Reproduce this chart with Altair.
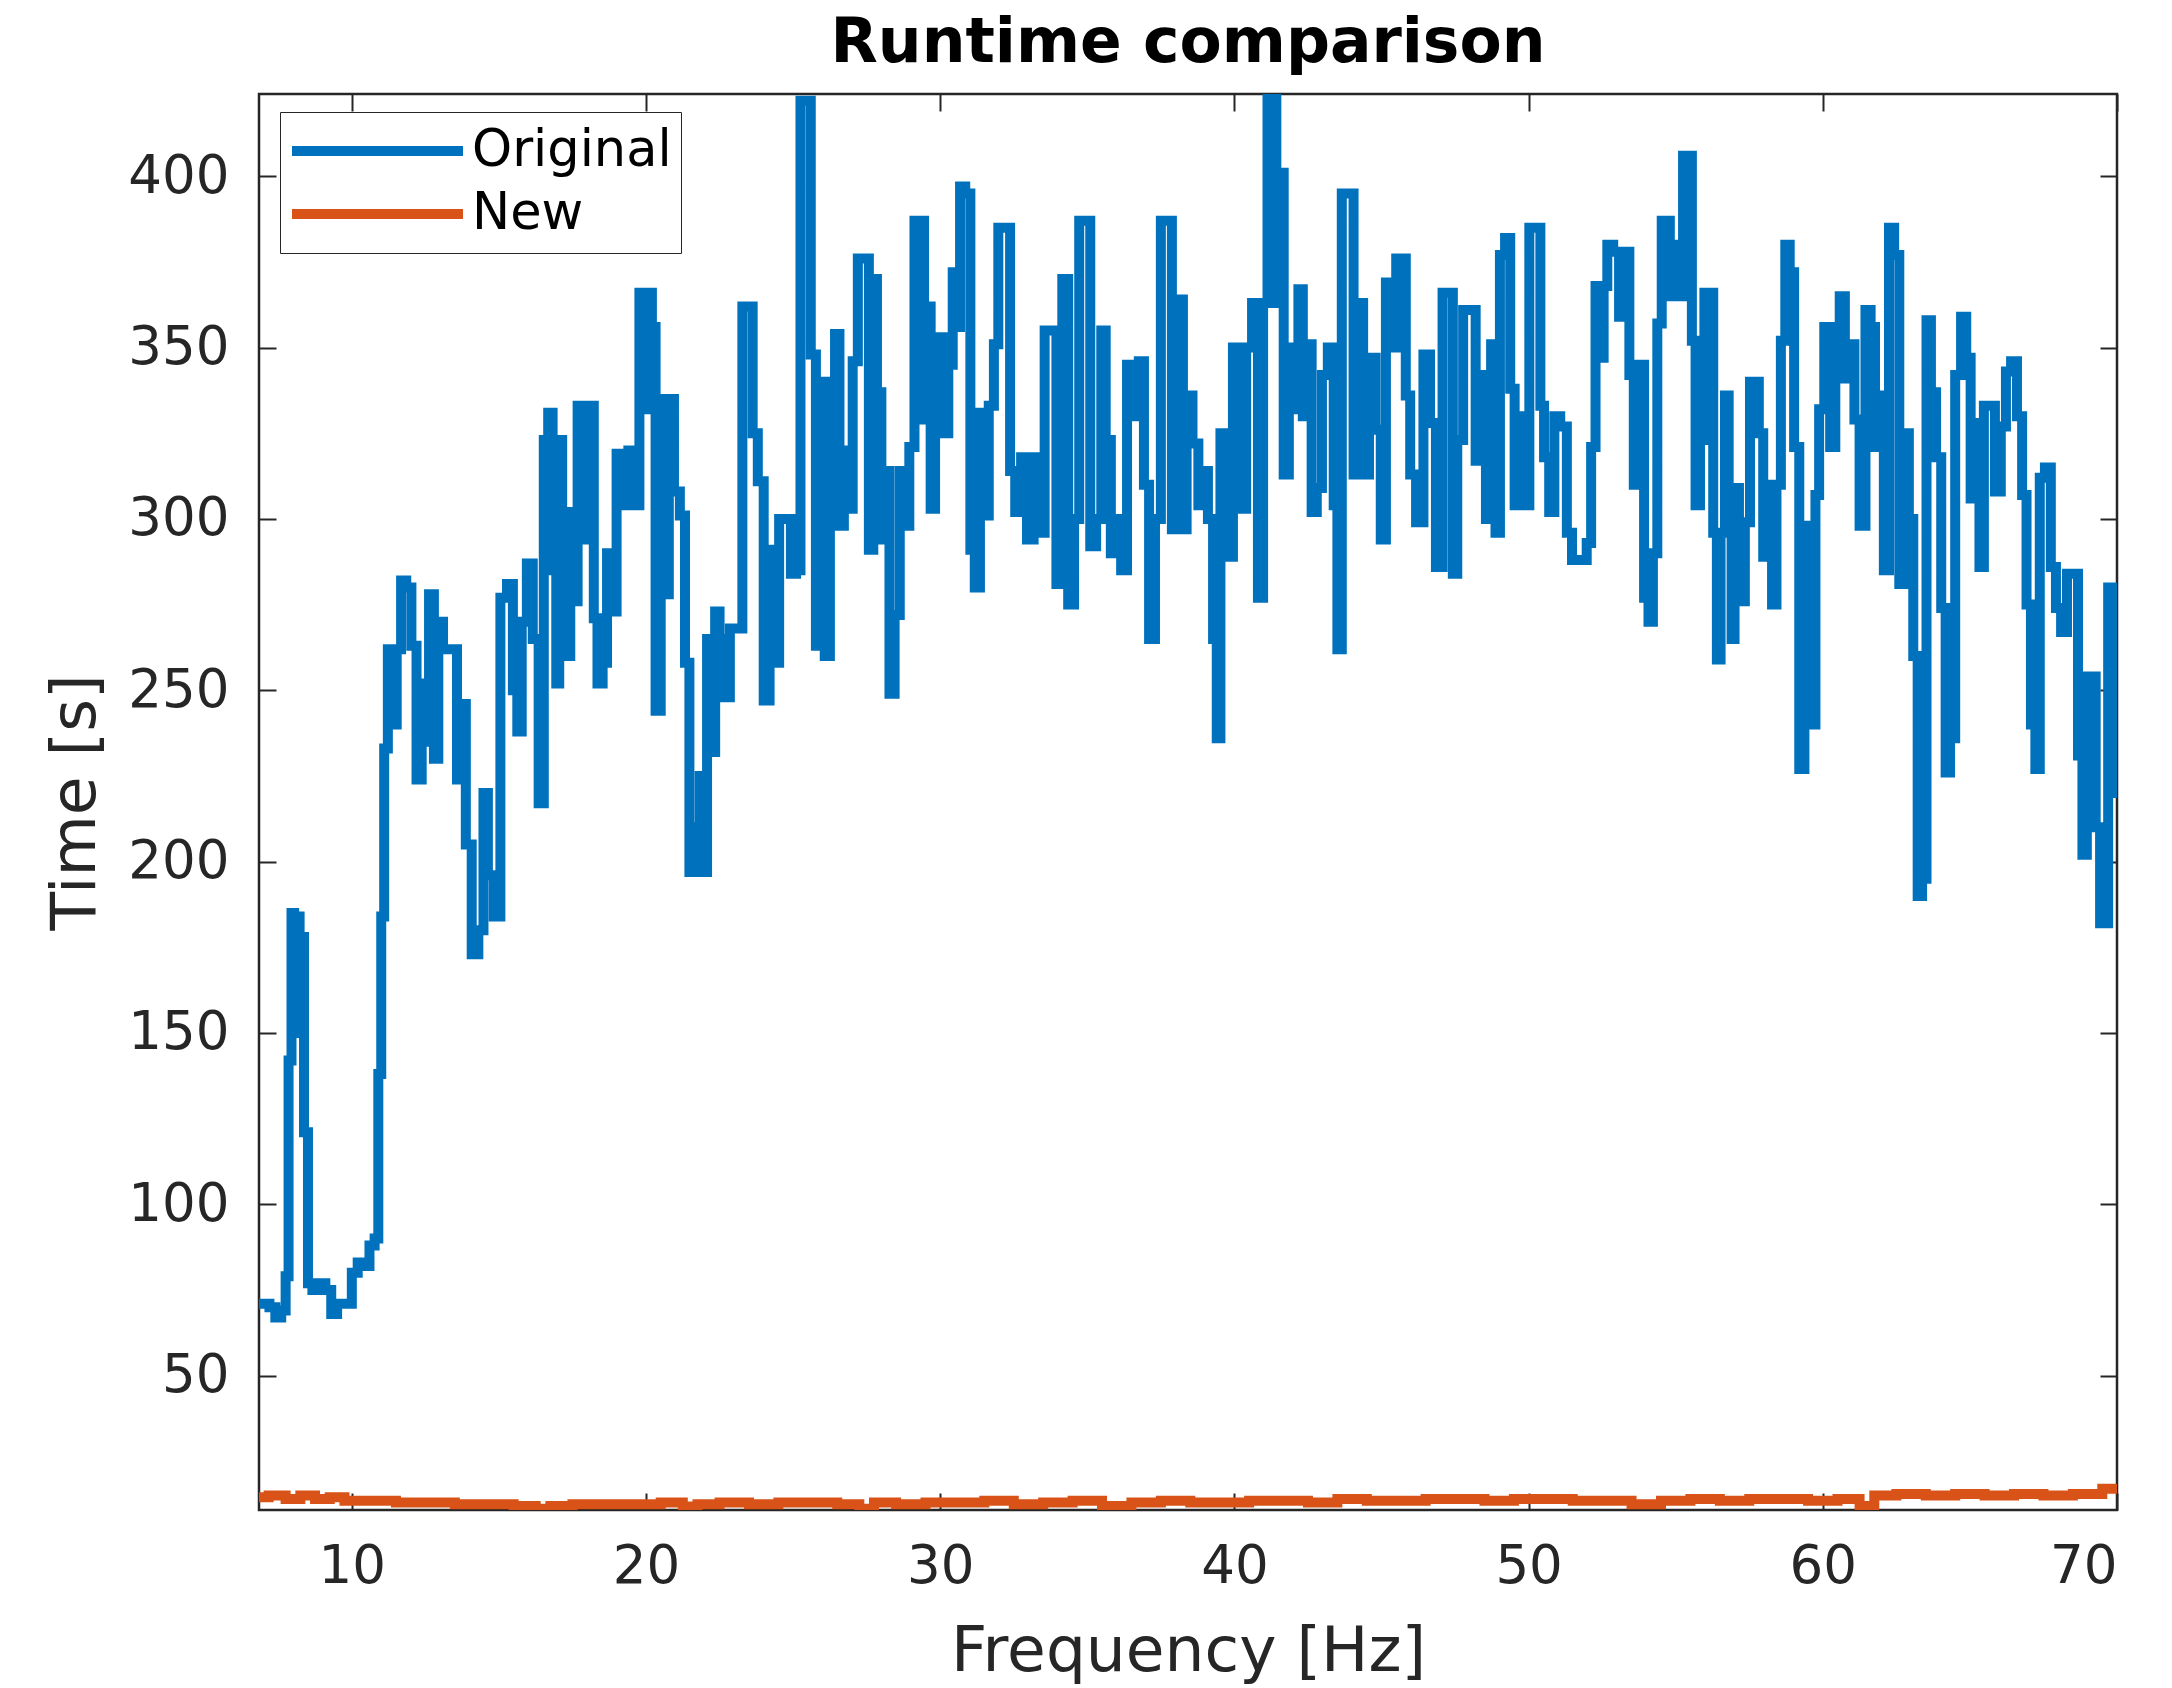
import altair as alt
import pandas as pd

FONT = "DejaVu Sans"
AX = "#262626"

# Runtime of the original method (frequency [Hz], time [s])
original = [
    (6.845, 71), (7.1, 71), (7.3, 70), (7.5, 67), (7.7, 69), (7.8, 79), (7.9, 142), (8.0, 185),
    (8.08, 150), (8.15, 184), (8.3, 178), (8.45, 121), (8.57, 77), (8.75, 75), (9.0, 77), (9.2, 75),
    (9.4, 68), (9.6, 71), (9.9, 71), (10.1, 80), (10.3, 83), (10.5, 82), (10.7, 88), (10.85, 90),
    (10.95, 138), (11.05, 184), (11.15, 233), (11.3, 262), (11.45, 240), (11.6, 262), (11.75, 282),
    (11.95, 280), (12.1, 263), (12.3, 224), (12.45, 252), (12.55, 235), (12.7, 278), (12.88, 230),
    (13.0, 270), (13.2, 262), (13.5, 262), (13.65, 224), (13.8, 246), (13.95, 205), (14.2, 173),
    (14.4, 180), (14.55, 220), (14.7, 196), (14.95, 184), (15.15, 277), (15.4, 281), (15.55, 250),
    (15.7, 238), (15.85, 270), (16.05, 287), (16.25, 265), (16.45, 217), (16.6, 323), (16.75, 331),
    (16.9, 285), (17.0, 252), (17.1, 323), (17.2, 291), (17.35, 260), (17.5, 302), (17.6, 276),
    (17.75, 333), (17.95, 330), (18.05, 294), (18.2, 333), (18.25, 271), (18.45, 252), (18.6, 258),
    (18.75, 290), (18.9, 273), (19.1, 319), (19.3, 304), (19.5, 320), (19.7, 304), (19.85, 366),
    (20.0, 332), (20.15, 366), (20.25, 356), (20.4, 244), (20.6, 335), (20.7, 278), (20.85, 335),
    (21.05, 308), (21.25, 301), (21.4, 258), (21.55, 197), (21.75, 210), (21.9, 225), (22.0, 197),
    (22.15, 265), (22.3, 232), (22.4, 273), (22.6, 265), (22.75, 248), (22.95, 268), (23.2, 268),
    (23.35, 362), (23.55, 362), (23.7, 325), (23.9, 311), (24.1, 247), (24.3, 291), (24.45, 258),
    (24.6, 300), (24.85, 300), (25.0, 284), (25.2, 285), (25.3, 422), (25.5, 422), (25.7, 348),
    (25.85, 263), (26.0, 340), (26.15, 260), (26.35, 340), (26.5, 354), (26.65, 298), (26.8, 320),
    (26.95, 303), (27.1, 346), (27.3, 376), (27.5, 376), (27.65, 291), (27.8, 370), (27.9, 337),
    (28.1, 294), (28.2, 314), (28.35, 249), (28.55, 272), (28.7, 314), (28.85, 298), (29.05, 321),
    (29.2, 387), (29.4, 387), (29.5, 329), (29.6, 362), (29.75, 303), (29.9, 345), (30.05, 353),
    (30.2, 325), (30.35, 345), (30.5, 372), (30.6, 356), (30.75, 397), (30.95, 395), (31.1, 291),
    (31.25, 280), (31.45, 331), (31.55, 301), (31.75, 333), (31.9, 351), (32.05, 385), (32.3, 385),
    (32.45, 314), (32.65, 302), (32.85, 318), (33.05, 294), (33.3, 318), (33.45, 296), (33.65, 355),
    (33.85, 355), (34.05, 281), (34.25, 370), (34.45, 275), (34.65, 300), (34.8, 387), (35.0, 387),
    (35.2, 292), (35.4, 300), (35.55, 355), (35.7, 323), (35.9, 290), (36.05, 300), (36.25, 285),
    (36.45, 345), (36.65, 330), (36.85, 346), (37.0, 310), (37.2, 265), (37.4, 300), (37.6, 387),
    (37.8, 387), (37.95, 297), (38.1, 337), (38.2, 364), (38.3, 297), (38.45, 336), (38.7, 322),
    (38.85, 304), (39.0, 314), (39.2, 300), (39.35, 265), (39.45, 236), (39.6, 325), (39.8, 289),
    (40.1, 350), (40.3, 303), (40.5, 350), (40.7, 363), (40.9, 277), (41.05, 363), (41.2, 424),
    (41.35, 424), (41.5, 363), (41.6, 401), (41.75, 313), (41.95, 350), (42.1, 332), (42.25, 367),
    (42.4, 330), (42.55, 351), (42.7, 302), (42.9, 309), (43.05, 342), (43.3, 350), (43.45, 304),
    (43.55, 262), (43.75, 395), (43.95, 395), (44.15, 313), (44.3, 363), (44.45, 313), (44.7, 347),
    (44.9, 326), (45.05, 294), (45.25, 369), (45.4, 350), (45.6, 376), (45.75, 376), (45.9, 336),
    (46.05, 313), (46.3, 299), (46.55, 348), (46.75, 328), (46.95, 286), (47.2, 366), (47.35, 366),
    (47.5, 284), (47.65, 323), (47.9, 361), (48.1, 361), (48.3, 317), (48.45, 342), (48.65, 300),
    (48.8, 351), (48.95, 296), (49.1, 377), (49.3, 382), (49.45, 338), (49.6, 304), (49.75, 330),
    (49.95, 304), (50.1, 385), (50.35, 385), (50.45, 333), (50.6, 318), (50.8, 302), (50.95, 330),
    (51.2, 327), (51.4, 296), (51.55, 288), (51.9, 288), (52.05, 293), (52.2, 321), (52.35, 368),
    (52.5, 347), (52.6, 368), (52.75, 380), (53.0, 378), (53.15, 359), (53.35, 378), (53.5, 342),
    (53.65, 310), (53.85, 345), (54.0, 277), (54.15, 270), (54.3, 290), (54.45, 357), (54.6, 387),
    (54.75, 387), (54.85, 365), (55.0, 380), (55.2, 365), (55.3, 406), (55.5, 406), (55.6, 352),
    (55.75, 304), (55.9, 323), (56.05, 366), (56.2, 366), (56.35, 296), (56.45, 259), (56.6, 296),
    (56.75, 336), (56.85, 300), (56.95, 265), (57.05, 309), (57.25, 276), (57.45, 299), (57.6, 340),
    (57.75, 340), (57.9, 325), (58.05, 289), (58.2, 310), (58.35, 275), (58.5, 310), (58.65, 352),
    (58.8, 380), (58.95, 372), (59.1, 321), (59.3, 227), (59.45, 298), (59.55, 280), (59.7, 240),
    (59.8, 307), (59.95, 332), (60.15, 356), (60.35, 321), (60.5, 356), (60.65, 365), (60.85, 341),
    (61.0, 351), (61.15, 329), (61.35, 298), (61.55, 361), (61.7, 356), (61.85, 321), (62.0, 336),
    (62.15, 285), (62.35, 385), (62.5, 377), (62.7, 281), (62.85, 325), (63.0, 300), (63.15, 260),
    (63.3, 190), (63.45, 195), (63.6, 358), (63.75, 337), (63.95, 318), (64.1, 274), (64.25, 226),
    (64.4, 236), (64.6, 342), (64.8, 359), (64.95, 347), (65.1, 306), (65.25, 328), (65.4, 286),
    (65.55, 333), (65.75, 333), (65.95, 308), (66.15, 327), (66.3, 343), (66.5, 346), (66.7, 330),
    (66.85, 307), (67.0, 275), (67.15, 240), (67.3, 227), (67.45, 312), (67.65, 315), (67.85, 286),
    (68.0, 274), (68.2, 267), (68.4, 284), (68.6, 284), (68.75, 231), (68.9, 202), (69.05, 254),
    (69.2, 254), (69.35, 210), (69.5, 182), (69.65, 182), (69.75, 280), (69.85, 220), (69.95, 280),
    (70.0, 268),
]

# Runtime of the new method
new = [
    (6.845, 14.5), (7.5, 15), (8, 14), (8.5, 15), (9, 14), (9.5, 14.5), (10, 13.5), (11, 13.5),
    (12, 13), (13, 13), (14, 12.5), (15, 12.5), (16, 12), (16.5, 11.2), (17, 12), (18, 12.5),
    (19, 12.5), (20, 12.5), (21, 13), (21.5, 11.8), (22, 12.5), (23, 13), (24, 12.5), (25, 13),
    (26, 13), (27, 12.5), (27.5, 11.2), (28, 13), (29, 12.5), (30, 13), (31, 13), (32, 13.5),
    (33, 12.5), (34, 13), (35, 13.5), (36, 12), (37, 13), (38, 13.5), (39, 13), (40, 13),
    (41, 13.5), (42, 13.5), (43, 13), (44, 14), (45, 13.5), (46, 13.5), (47, 14), (48, 14),
    (49, 13.5), (50, 14), (51, 14), (52, 13.5), (53, 13.5), (54, 12.5), (55, 13.5), (56, 14),
    (57, 13.5), (58, 14), (59, 14), (60, 13.5), (61, 14), (61.5, 12), (62, 15), (63, 15.5),
    (64, 15), (65, 15.5), (66, 15), (67, 15.5), (68, 15), (69, 15.5), (70, 17),
]

series_names = ["Original", "New"]
series_colors = ["#0072BD", "#D95319"]
x_ticks = [10, 20, 30, 40, 50, 60, 70]
y_ticks = [50, 100, 150, 200, 250, 300, 350, 400]
x_domain = [6.845, 70]
y_domain = [10.8, 424]

rows = [{"freq": f, "time": t, "series": "Original"} for f, t in original]
rows += [{"freq": f, "time": t, "series": "New"} for f, t in new]
df = pd.DataFrame(rows)

W, H = 1858, 1416

xs = alt.Scale(domain=x_domain, nice=False, zero=False)
ys = alt.Scale(domain=y_domain, nice=False, zero=False)

main = alt.Chart(df).mark_line(strokeWidth=10, interpolate="step", clip=True).encode(
    x=alt.X("freq:Q", scale=xs, axis=alt.Axis(
        orient="bottom", values=x_ticks, ticks=False, domain=False, grid=False,
        labelFontSize=53, labelPadding=30, labelColor=AX, labelFont=FONT,
        title="Frequency [Hz]", titleFontSize=63, titleFont=FONT, titleFontWeight="normal",
        titleColor=AX, titleBaseline="alphabetic", titleY=160)),
    y=alt.Y("time:Q", scale=ys, axis=alt.Axis(
        orient="left", values=y_ticks, ticks=False, domain=False, grid=False,
        labelFontSize=53, labelPadding=30, labelColor=AX, labelFont=FONT,
        title="Time [s]", titleFontSize=63, titleFont=FONT, titleFontWeight="normal",
        titleColor=AX, titleBaseline="alphabetic", titleX=-165, titleY=H / 2)),
    color=alt.Color("series:N", sort=series_names,
                    scale=alt.Scale(domain=series_names, range=series_colors),
                    legend=alt.Legend(
                        title=None, orient="none", legendX=21, legendY=18,
                        fillColor="white", strokeColor=AX, padding=9,
                        symbolType="stroke", symbolSize=171 * 171, symbolStrokeWidth=10,
                        labelFontSize=51, labelFont=FONT, labelColor="black",
                        labelOffset=4, symbolOffset=-2, clipHeight=60, rowPadding=3,
                        labelLimit=600)),
)


def tick_layer(xo, yo):
    return alt.Chart(df).mark_point(opacity=0).encode(
        x=alt.X("freq:Q", scale=xs, axis=alt.Axis(
            orient=xo, offset=-H, values=x_ticks, labels=False, domain=False, grid=False,
            ticks=True, tickSize=17, tickWidth=2, tickColor=AX, title=None)),
        y=alt.Y("time:Q", scale=ys, axis=alt.Axis(
            orient=yo, offset=-W, values=y_ticks, labels=False, domain=False, grid=False,
            ticks=True, tickSize=17, tickWidth=2, tickColor=AX, title=None)),
    )


chart = alt.layer(main, tick_layer("top", "right"), tick_layer("bottom", "left")).resolve_axis(
    x="independent", y="independent"
).properties(
    width=W, height=H,
    title=alt.TitleParams("Runtime comparison", fontSize=61.5, fontWeight="bold", font=FONT,
                          color="black", anchor="middle", baseline="alphabetic", offset=31, dy=63),
    padding={"left": 259, "top": 94, "right": 55, "bottom": 178},
    autosize=alt.AutoSizeParams(type="none"),
).configure_view(stroke=AX, strokeWidth=2.5)

chart.save("out.html", embed_options={"renderer": "svg", "actions": False})
